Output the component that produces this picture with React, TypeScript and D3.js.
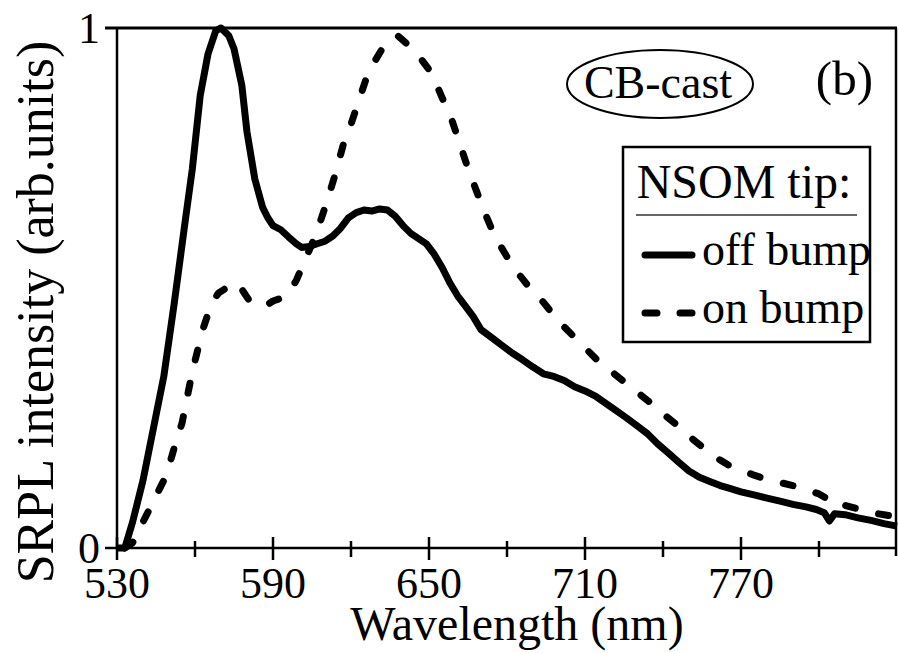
import React from "react";
import * as d3 from "d3";

const WIDTH = 898;
const HEIGHT = 653;
const M = { left: 117, right: 1, top: 28, bottom: 105 };
const FONT = "'Liberation Serif', 'Times New Roman', serif";

// off bump (solid)
const offNm = [
  530, 533, 536, 540, 544, 548, 552, 556, 559, 562, 565, 568, 570, 573, 575, 578, 580, 583, 586, 588,
  590, 593, 596, 599, 601, 604, 607, 610, 613, 616, 619, 622, 625, 628, 631, 634, 637, 640, 643, 646,
  649, 652, 655, 658, 661, 664, 667, 670, 674, 678, 682, 686, 690, 694, 698, 702, 706, 710, 714, 718,
  722, 726, 730, 734, 738, 742, 746, 750, 754, 758, 762, 766, 770, 775, 780, 785, 790, 795, 799, 802,
  804, 806, 810, 815, 820, 825, 830,
];
const offVal = [
  0, 0, 0.05, 0.13, 0.23, 0.33, 0.47, 0.62, 0.73, 0.87, 0.95, 0.995, 1.0, 0.985, 0.96, 0.89, 0.8, 0.71, 0.655, 0.635,
  0.62, 0.612, 0.598, 0.585, 0.578, 0.58, 0.585, 0.59, 0.6, 0.615, 0.635, 0.645, 0.65, 0.648, 0.652, 0.65, 0.638, 0.62, 0.605, 0.595,
  0.585, 0.565, 0.54, 0.51, 0.485, 0.465, 0.445, 0.42, 0.405, 0.39, 0.375, 0.362, 0.348, 0.335, 0.33, 0.322, 0.31, 0.302, 0.292, 0.278,
  0.264, 0.25, 0.235, 0.22, 0.2, 0.183, 0.165, 0.148, 0.136, 0.128, 0.12, 0.114, 0.108, 0.102, 0.096, 0.09, 0.084, 0.079, 0.074, 0.068,
  0.052, 0.066, 0.064, 0.058, 0.053, 0.047, 0.042,
];

// on bump (dashed)
const onNm = [
  533, 536, 540, 543, 546, 549, 551, 553, 555, 557, 559, 561, 563, 565, 567, 569, 572, 575, 577, 579,
  581, 584, 587, 590, 593, 596, 599, 602, 605, 608, 611, 614, 617, 620, 623, 626, 629, 632, 635, 638,
  641, 644, 647, 650, 653, 656, 659, 662, 665, 668, 671, 674, 677, 680, 684, 688, 692, 696, 700, 705,
  710, 715, 720, 725, 730, 735, 740, 745, 750, 755, 760, 765, 770, 775, 780, 785, 790, 795, 800, 804,
  806, 810, 815, 820, 825, 830,
];
const onVal = [
  0, 0.01, 0.05, 0.08, 0.11, 0.14, 0.175, 0.21, 0.24, 0.29, 0.34, 0.38, 0.42, 0.45, 0.475, 0.49, 0.5, 0.51, 0.505, 0.49,
  0.475, 0.47, 0.465, 0.475, 0.48, 0.49, 0.515, 0.55, 0.585, 0.625, 0.67, 0.72, 0.775, 0.815, 0.86, 0.905, 0.935, 0.96, 0.978, 0.985,
  0.972, 0.955, 0.94, 0.92, 0.89, 0.855, 0.82, 0.775, 0.73, 0.69, 0.65, 0.615, 0.585, 0.56, 0.53, 0.505, 0.485, 0.46, 0.435, 0.41,
  0.385, 0.36, 0.34, 0.32, 0.3, 0.28, 0.258, 0.238, 0.215, 0.195, 0.175, 0.16, 0.15, 0.14, 0.132, 0.126, 0.12, 0.112, 0.104, 0.092,
  0.095, 0.082, 0.075, 0.068, 0.064, 0.06,
];

const xMajor = [530, 590, 650, 710, 770];
const xMinor = [560, 620, 680, 740, 800];
const yTicks = [0, 1];

export default function App() {
  const x = d3.scaleLinear().domain([530, 830]).range([M.left, WIDTH - M.right]);
  const y = d3.scaleLinear().domain([0, 1]).range([HEIGHT - M.bottom, M.top]);
  const line = d3
    .line<[number, number]>()
    .x((d) => x(d[0]))
    .y((d) => y(d[1]));

  const off = offNm.map((n, i) => [n, offVal[i]] as [number, number]);
  const on = onNm.map((n, i) => [n, onVal[i]] as [number, number]);
  const x0 = x(530);
  const x1 = x(830);
  const y0 = y(0);
  const y1 = y(1);

  return (
    <svg
      width={WIDTH}
      height={HEIGHT}
      style={{ position: "absolute", left: 0, top: 0, background: "#fff" }}
      fontFamily={FONT}
    >
      <path d={line(on) || ""} fill="none" stroke="#000" strokeWidth={7}
        strokeDasharray="10 24" strokeLinecap="round" strokeLinejoin="round" />
      <path d={line(off) || ""} fill="none" stroke="#000" strokeWidth={7}
        strokeLinejoin="round" />

      {/* frame */}
      <line x1={x0} x2={x0} y1={y1} y2={y0} stroke="#000" strokeWidth={2.5} />
      <line x1={x0 - 12} x2={x1} y1={y0} y2={y0} stroke="#000" strokeWidth={2.5} />
      <line x1={x0 - 12} x2={x1} y1={y1} y2={y1} stroke="#000" strokeWidth={3} />
      <line x1={x1 - 1} x2={x1 - 1} y1={y1} y2={y0 + 8} stroke="#000" strokeWidth={2.5} />
      {xMajor.map((t) => (
        <line key={t} x1={x(t)} x2={x(t)} y1={y0 - 11} y2={y0 + 12} stroke="#000" strokeWidth={2.5} />
      ))}
      {xMinor.map((t) => (
        <line key={t} x1={x(t)} x2={x(t)} y1={y0 - 7} y2={y0 + 9} stroke="#000" strokeWidth={2.5} />
      ))}
      {xMajor.map((t) => (
        <text key={t} x={x(t)} y={598} fontSize={44} textAnchor="middle">{t}</text>
      ))}
      {yTicks.map((t) => (
        <text key={t} x={100} y={y(t) + 15} fontSize={44} textAnchor="end">{t}</text>
      ))}
      <text x={(x0 + x1) / 2 + 10} y={640} fontSize={48} textAnchor="middle">Wavelength (nm)</text>
      <text transform={`translate(53,312) rotate(-90)`} fontSize={52} textAnchor="middle">
        SRPL intensity (arb.units)
      </text>

      {/* annotations */}
      <ellipse cx={660} cy={84} rx={93} ry={34} fill="none" stroke="#000" strokeWidth={2} />
      <text x={658} y={98} fontSize={46} textAnchor="middle">CB-cast</text>
      <text x={873} y={95} fontSize={49} textAnchor="end">(b)</text>

      {/* legend */}
      <rect x={623} y={147} width={247} height={195} fill="#fff" stroke="#000" strokeWidth={2.5} />
      <text x={744} y={198} fontSize={48} textAnchor="middle">NSOM tip:</text>
      <line x1={636} x2={857} y1={215} y2={215} stroke="#333" strokeWidth={1.5} />
      <line x1={645} x2={692} y1={255} y2={255} stroke="#000" strokeWidth={7} strokeLinecap="round" />
      <text x={702} y={265} fontSize={46}>off bump</text>
      <line x1={645} x2={692} y1={313} y2={313} stroke="#000" strokeWidth={7}
        strokeLinecap="round" strokeDasharray="12 23" />
      <text x={702} y={323} fontSize={46}>on bump</text>
    </svg>
  );
}
